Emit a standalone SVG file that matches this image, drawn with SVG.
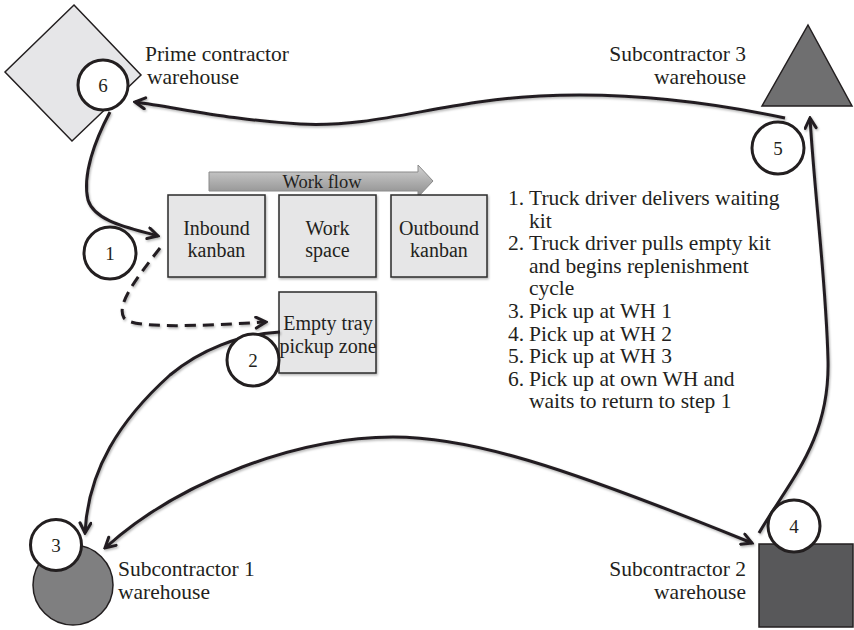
<svg xmlns="http://www.w3.org/2000/svg" width="854" height="630" viewBox="0 0 854 630">
  <style>
    text { font-family: "Liberation Serif", "Times New Roman", serif; fill: #231f20; }
    .lbl { font-size: 21.5px; }
    .list { font-size: 21.5px; }
    .box { fill: #e6e6e7; stroke: #2b2b2b; stroke-width: 1.5; filter: url(#soft); }
    .boxtxt { font-size: 20px; text-anchor: middle; }
    .badge { fill: #ffffff; stroke: #231f20; stroke-width: 3; }
    .num { font-size: 19px; text-anchor: middle; }
    .wire { fill: none; stroke: #231f20; stroke-width: 3; filter: url(#soft); }
    .dash { stroke-dasharray: 11 7; }
  </style>
  <defs>
    <filter id="soft" x="-10%" y="-10%" width="120%" height="130%">
      <feDropShadow dx="1" dy="1.5" stdDeviation="1.2" flood-color="#000" flood-opacity="0.3"/>
    </filter>
    <linearGradient id="flowGrad" x1="0" y1="0" x2="0" y2="1">
      <stop offset="0" stop-color="#d2d2d2"/>
      <stop offset="1" stop-color="#8c8c8c"/>
    </linearGradient>
    <marker id="head" viewBox="0 0 14 14" refX="12" refY="7" markerWidth="14" markerHeight="14"
            markerUnits="userSpaceOnUse" orient="auto-start-reverse">
      <path d="M2,1.5 L12,7 L2,12.5" fill="none" stroke="#231f20" stroke-width="3" stroke-linecap="round" stroke-linejoin="miter"/>
    </marker>
  </defs>

  <rect width="854" height="630" fill="#ffffff"/>

  <!-- warehouses -->
  <g id="prime-warehouse">
    <polygon points="74,5 141,75 72,141 5,72" fill="#e6e6e8" stroke="#231f20" stroke-width="1.5"/>
    <text class="lbl" x="145" y="61">Prime contractor</text>
    <text class="lbl" x="147" y="83.5">warehouse</text>
  </g>
  <g id="sub3-warehouse">
    <polygon points="808,25 852,106 762,106" fill="#6f6f70" stroke="#231f20" stroke-width="1.5"/>
    <text class="lbl" x="746" y="61" text-anchor="end">Subcontractor 3</text>
    <text class="lbl" x="746" y="83.5" text-anchor="end">warehouse</text>
  </g>
  <g id="sub1-warehouse">
    <circle cx="73" cy="585" r="40" fill="#7f7f80" stroke="#231f20" stroke-width="1.5"/>
    <text class="lbl" x="118" y="576">Subcontractor 1</text>
    <text class="lbl" x="118" y="598.5">warehouse</text>
  </g>
  <g id="sub2-warehouse">
    <rect x="759" y="544" width="94" height="83" fill="#58585a" stroke="#231f20" stroke-width="1.5"/>
    <text class="lbl" x="746" y="576" text-anchor="end">Subcontractor 2</text>
    <text class="lbl" x="746" y="598.5" text-anchor="end">warehouse</text>
  </g>

  <!-- work cell -->
  <g id="work-flow">
    <polygon points="209,172 418,172 418,165 433,181 418,197 418,191 209,191" fill="url(#flowGrad)" stroke="#8a8a8a" stroke-width="1"/>
    <text x="322" y="188" font-size="18.5" text-anchor="middle">Work flow</text>
  </g>
  <g id="inbound-kanban">
    <rect class="box" x="168" y="195" width="97" height="82"/>
    <text class="boxtxt" x="216.5" y="235">Inbound</text>
    <text class="boxtxt" x="216.5" y="257">kanban</text>
  </g>
  <g id="work-space">
    <rect class="box" x="279" y="195" width="97" height="82"/>
    <text class="boxtxt" x="327.5" y="235">Work</text>
    <text class="boxtxt" x="327.5" y="257">space</text>
  </g>
  <g id="outbound-kanban">
    <rect class="box" x="391" y="195" width="96" height="82"/>
    <text class="boxtxt" x="439" y="235">Outbound</text>
    <text class="boxtxt" x="439" y="257">kanban</text>
  </g>
  <g id="empty-tray">
    <rect class="box" x="279" y="292" width="97" height="81"/>
    <text class="boxtxt" x="328" y="330" font-size="18">Empty tray</text>
    <text class="boxtxt" x="328" y="353" font-size="18">pickup zone</text>
  </g>

  <!-- step list -->
  <g id="steps" class="list">
    <text class="list" x="508" y="205">1.</text><text class="list" x="529" y="205">Truck driver delivers waiting</text>
    <text class="list" x="529" y="227.6">kit</text>
    <text class="list" x="508" y="250.2">2.</text><text class="list" x="529" y="250.2">Truck driver pulls empty kit</text>
    <text class="list" x="529" y="272.8">and begins replenishment</text>
    <text class="list" x="529" y="295.4">cycle</text>
    <text class="list" x="508" y="318">3.</text><text class="list" x="529" y="318">Pick up at WH 1</text>
    <text class="list" x="508" y="340.6">4.</text><text class="list" x="529" y="340.6">Pick up at WH 2</text>
    <text class="list" x="508" y="363.2">5.</text><text class="list" x="529" y="363.2">Pick up at WH 3</text>
    <text class="list" x="508" y="385.8">6.</text><text class="list" x="529" y="385.8">Pick up at own WH and</text>
    <text class="list" x="529" y="408.4">waits to return to step 1</text>
  </g>

  <!-- routes -->
  <g id="connectors">
    <path class="wire" d="M110,112 C95,140 82,175 88,200 C95,222 130,228 158,236" marker-end="url(#head)"/>
    <path class="wire dash" d="M160,248 C135,280 116,305 124,318 C132,329 200,326 266,322" marker-end="url(#head)"/>
    <path class="wire" d="M280,332 C240,334 200,350 170,375 C120,420 88,470 85,533" marker-end="url(#head)"/>
    <path class="wire" d="M105,548 C180,480 300,437 393,437 C470,437 560,465 752,543" marker-start="url(#head)" marker-end="url(#head)"/>
    <path class="wire" d="M759,533 C790,480 830,440 828,360 C826,280 815,200 810,118" marker-end="url(#head)"/>
    <path class="wire" d="M785,118 C700,100 620,92 540,96 C440,101 380,128 300,124 C230,120 180,108 135,102" marker-end="url(#head)"/>
  </g>

  <!-- step badges -->
  <g id="step-6"><circle class="badge" cx="103" cy="85" r="25"/><text class="num" x="103" y="92">6</text></g>
  <g id="step-1"><circle class="badge" cx="110" cy="253" r="26"/><text class="num" x="110" y="260">1</text></g>
  <g id="step-2"><circle class="badge" cx="253" cy="360" r="26"/><text class="num" x="253" y="367">2</text></g>
  <g id="step-3"><circle class="badge" cx="56" cy="545" r="25.5"/><text class="num" x="56" y="552">3</text></g>
  <g id="step-4"><circle class="badge" cx="794" cy="526" r="26"/><text class="num" x="794" y="533">4</text></g>
  <g id="step-5"><circle class="badge" cx="778" cy="148" r="26"/><text class="num" x="778" y="155">5</text></g>
</svg>
